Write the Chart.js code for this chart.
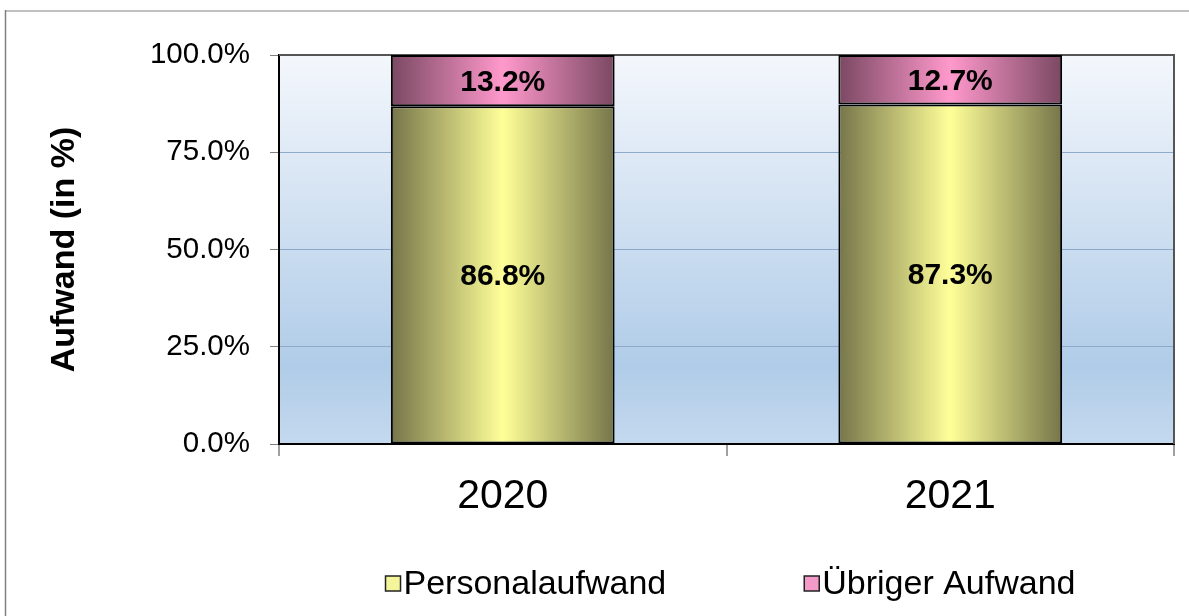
<!DOCTYPE html>
<html>
<head>
<meta charset="utf-8">
<script src="https://cdn.jsdelivr.net/npm/chart.js@4"></script>
<style>
  html, body { margin: 0; padding: 0; background: #fff; }
</style>
</head>
<body>
<canvas id="myChart" width="1189" height="616"></canvas>
<script>
const years = ['2020', '2021'];
const personalaufwand = [86.8, 87.3];
const uebrigerAufwand = [13.2, 12.7];
const seriesNames = ['Personalaufwand', 'Übriger Aufwand'];
const yMax = 100;
const yStep = 25;

const FONT = '"Liberation Sans", Arial, sans-serif';

// horizontal gradient over a bar, dark at the edges, light in the middle
function barFill(dark, light) {
  return function (c) {
    const chart = c.chart;
    const x = chart.scales.x;
    if (c.dataIndex === undefined || !x || !chart.chartArea) return light;
    const center = x.getPixelForValue(c.dataIndex);
    const half = (x.width / years.length) * 0.5 / 2;
    const g = chart.ctx.createLinearGradient(center - half, 0, center + half, 0);
    g.addColorStop(0, dark);
    g.addColorStop(0.5, light);
    g.addColorStop(1, dark);
    return g;
  };
}

const legendColors = ['#f4f49a', '#f49ac8'];

const backgroundPlugin = {
  id: 'background',
  beforeDraw(chart) {
    const { ctx, chartArea: a } = chart;
    ctx.save();
    ctx.fillStyle = '#fff';
    ctx.fillRect(0, 0, chart.width, chart.height);
    // outer frame (top + left only visible)
    ctx.strokeStyle = '#c0c0c0';
    ctx.lineWidth = 2;
    ctx.beginPath();
    ctx.moveTo(5, 11);
    ctx.lineTo(chart.width, 11);
    ctx.stroke();
    ctx.strokeStyle = '#808080';
    ctx.lineWidth = 1.5;
    ctx.beginPath();
    ctx.moveTo(5.5, 10);
    ctx.lineTo(5.5, chart.height);
    ctx.stroke();
    // plot area
    const g = ctx.createLinearGradient(0, a.top, 0, a.bottom);
    g.addColorStop(0, '#f4f7fc');
    g.addColorStop(0.8, '#b0cce8');
    g.addColorStop(1, '#c4d9ee');
    ctx.fillStyle = g;
    ctx.fillRect(a.left, a.top, a.right - a.left, a.bottom - a.top);
    ctx.restore();
  },
  beforeDatasetsDraw(chart) {
    const { ctx, chartArea: a } = chart;
    ctx.save();
    ctx.strokeStyle = '#555';
    ctx.lineWidth = 2;
    ctx.beginPath();
    ctx.moveTo(a.left, a.top);
    ctx.lineTo(a.right, a.top);
    ctx.lineTo(a.right, a.bottom);
    ctx.stroke();
    ctx.restore();
  }
};

const valueLabels = {
  id: 'valueLabels',
  afterDatasetsDraw(chart) {
    const ctx = chart.ctx;
    ctx.save();
    ctx.font = 'bold 30px ' + FONT;
    ctx.fillStyle = '#000';
    ctx.textAlign = 'center';
    ctx.textBaseline = 'middle';
    chart.data.datasets.forEach((ds, i) => {
      chart.getDatasetMeta(i).data.forEach((bar, j) => {
        const p = bar.getCenterPoint();
        ctx.fillText(ds.data[j].toFixed(1) + '%', p.x, p.y + 2);
      });
    });
    ctx.restore();
  }
};

const bottomLegend = {
  id: 'bottomLegend',
  afterDraw(chart) {
    const ctx = chart.ctx;
    const a = chart.chartArea;
    ctx.save();
    ctx.font = '34px ' + FONT;
    ctx.textBaseline = 'middle';
    ctx.textAlign = 'left';
    const box = 15, gap = 3, spacing = 138;
    const names = chart.data.datasets.map(d => d.label);
    let total = 0;
    names.forEach((n, i) => {
      total += box + gap + ctx.measureText(n).width;
      if (i > 0) total += spacing;
    });
    let x = (a.left + a.right) / 2 + 4 - total / 2;
    const y = 585;
    names.forEach((n, i) => {
      ctx.fillStyle = legendColors[i];
      ctx.fillRect(x, y - 9, box, box);
      ctx.strokeStyle = '#222';
      ctx.lineWidth = 1.5;
      ctx.strokeRect(x, y - 9, box, box);
      ctx.fillStyle = '#000';
      ctx.fillText(n, x + box + gap, y);
      x += box + gap + ctx.measureText(n).width + spacing;
    });
    ctx.restore();
  }
};

const ctx = document.getElementById('myChart');
new Chart(ctx, {
  type: 'bar',
  data: {
    labels: years,
    datasets: [{
      label: seriesNames[0],
      data: personalaufwand,
      backgroundColor: barFill('#75754a', '#ffff99'),
      borderColor: '#000',
      borderWidth: 2,
      borderSkipped: false
    }, {
      label: seriesNames[1],
      data: uebrigerAufwand,
      backgroundColor: barFill('#7a4862', '#ff99cc'),
      borderColor: '#000',
      borderWidth: 2,
      borderSkipped: false
    }]
  },
  options: {
    responsive: false,
    animation: false,
    barPercentage: 0.5,
    categoryPercentage: 1.0,
    layout: { padding: { top: 55, right: 15, bottom: 92, left: 0 } },
    plugins: {
      legend: { display: false },
      tooltip: { enabled: false }
    },
    scales: {
      x: {
        stacked: true,
        afterFit(scale) { scale.height = 80; },
        grid: { offset: true, drawOnChartArea: false, tickLength: 12, tickColor: '#a0a0a0', lineWidth: 2 },
        border: { color: '#000', width: 2 },
        ticks: { color: '#000', font: { family: FONT, size: 41 }, padding: 16 }
      },
      y: {
        stacked: true,
        min: 0,
        max: yMax,
        afterFit(scale) { scale.width = 279; },
        ticks: {
          stepSize: yStep,
          color: '#000',
          padding: 20,
          font: { family: FONT, size: 29.5 },
          callback: v => v.toFixed(1) + '%'
        },
        grid: { color: '#8ea9c9', tickColor: '#808080', tickLength: 9, lineWidth: 1 },
        border: { color: '#000', width: 2 },
        title: {
          display: true,
          text: 'Aufwand (in %)',
          color: '#000',
          font: { family: FONT, size: 34, weight: 'bold' },
          padding: { top: 44, bottom: 0 }
        }
      }
    }
  },
  plugins: [backgroundPlugin, valueLabels, bottomLegend]
});
</script>
</body>
</html>
